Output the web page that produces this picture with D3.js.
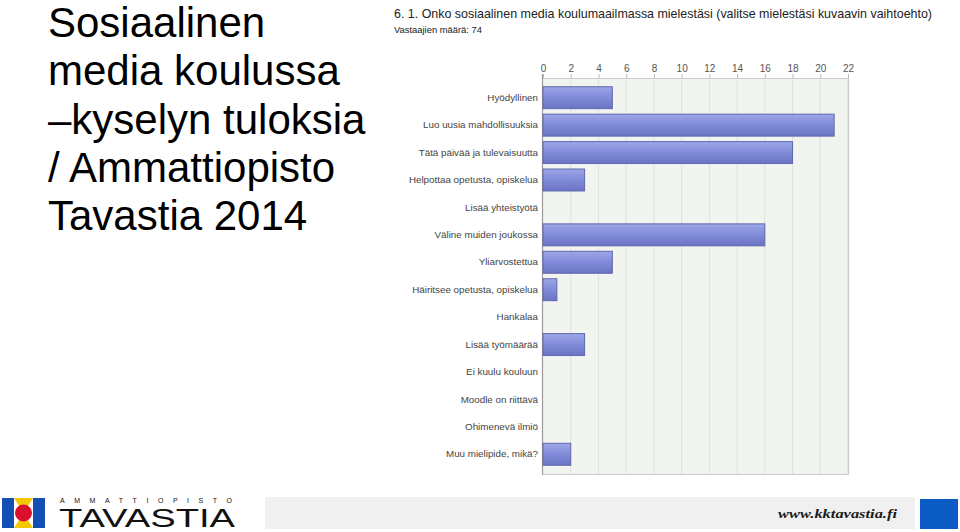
<!DOCTYPE html>
<html>
<head>
<meta charset="utf-8">
<script src="https://cdn.jsdelivr.net/npm/d3@7/dist/d3.min.js"></script>
<style>
  html, body { margin: 0; padding: 0; background: #fff; }
  svg { display: block; font-family: "Liberation Sans", Arial, sans-serif; }
</style>
</head>
<body>
<svg id="chart" width="960" height="532"></svg>
<script>
// ---- data ----
const categories = [
  "Hyödyllinen",
  "Luo uusia mahdollisuuksia",
  "Tätä päivää ja tulevaisuutta",
  "Helpottaa opetusta, opiskelua",
  "Lisää yhteistyötä",
  "Väline muiden joukossa",
  "Yliarvostettua",
  "Häiritsee opetusta, opiskelua",
  "Hankalaa",
  "Lisää työmäärää",
  "Ei kuulu kouluun",
  "Moodle on riittävä",
  "Ohimenevä ilmiö",
  "Muu mielipide, mikä?"
];
const counts = [5, 21, 18, 3, 0, 16, 5, 1, 0, 3, 0, 0, 0, 2];
const xTicks = [0, 2, 4, 6, 8, 10, 12, 14, 16, 18, 20, 22];
const titleLines = ["Sosiaalinen", "media koulussa", "–kyselyn tuloksia", "/ Ammattiopisto", "Tavastia 2014"];
const chartTitle = "6. 1. Onko sosiaalinen media koulumaailmassa mielestäsi (valitse mielestäsi kuvaavin vaihtoehto)";
const respondents = "Vastaajien määrä: 74";

const svg = d3.select("#chart");

// gradient for bars
const defs = svg.append("defs");
const grad = defs.append("linearGradient").attr("id", "barGrad").attr("x1", 0).attr("y1", 0).attr("x2", 0).attr("y2", 1);
grad.append("stop").attr("offset", "0%").attr("stop-color", "#9ea7e8");
grad.append("stop").attr("offset", "45%").attr("stop-color", "#838dda");
grad.append("stop").attr("offset", "100%").attr("stop-color", "#6a74c3");

// ---- left title ----
svg.append("g").selectAll("text").data(titleLines).join("text")
  .attr("x", 48)
  .attr("y", (d, i) => 37 + i * 48.3)
  .attr("font-size", 42)
  .attr("fill", "#000")
  .text(d => d);

// ---- chart header ----
svg.append("text").attr("x", 394).attr("y", 18).attr("font-size", 12.8).attr("fill", "#222")
  .attr("textLength", 538).attr("lengthAdjust", "spacingAndGlyphs").text(chartTitle);
svg.append("text").attr("x", 394).attr("y", 33).attr("font-size", 9.5).attr("fill", "#222")
  .attr("textLength", 88).attr("lengthAdjust", "spacingAndGlyphs").text(respondents);

// ---- plot ----
const px0 = 543, px1 = 848, py0 = 78, py1 = 474;
const x = d3.scaleLinear().domain([0, 22]).range([px0, px1]);
const y = d3.scaleBand().domain(categories).range([84, 468]).paddingInner(0.2).paddingOuter(0.1);

svg.append("rect").attr("x", px0).attr("y", py0).attr("width", px1 - px0).attr("height", py1 - py0)
  .attr("fill", "#f1f4ef");

// gridlines
svg.append("g").selectAll("line").data(xTicks.slice(1)).join("line")
  .attr("x1", d => x(d)).attr("x2", d => x(d))
  .attr("y1", py0).attr("y2", py1)
  .attr("stroke", "#dfe3dc").attr("stroke-width", 1);

// frame
svg.append("path")
  .attr("d", `M${px0},${py0 + 0.5}H${px1 + 0.5}V${py1 + 0.5}H${px0}`)
  .attr("fill", "none").attr("stroke", "#c9ccc7").attr("stroke-width", 1.2);
svg.append("line").attr("x1", px0 - 0.5).attr("x2", px0 - 0.5).attr("y1", py0 - 4).attr("y2", py1 + 1)
  .attr("stroke", "#9a9a9a").attr("stroke-width", 1.2);

// top axis
const xAxis = d3.axisTop(x).tickValues(xTicks).tickSize(4).tickPadding(2);
const gx = svg.append("g").attr("transform", `translate(0,${py0})`).call(xAxis);
gx.select(".domain").remove();
gx.selectAll(".tick line").attr("stroke", "#bbb");
gx.selectAll(".tick text").attr("font-size", 10).attr("fill", "#555")
  .attr("font-family", "'Liberation Sans', Arial, sans-serif");

// left axis labels
const yAxis = d3.axisLeft(y).tickSize(0).tickPadding(5);
const gy = svg.append("g").attr("transform", `translate(${px0},0)`).call(yAxis);
gy.select(".domain").remove();
gy.selectAll(".tick text").attr("font-size", 9.8).attr("fill", "#444")
  .attr("font-family", "'Liberation Sans', Arial, sans-serif");

// bars
svg.append("g").selectAll("rect").data(categories.map((c, i) => ({ c, v: counts[i] })).filter(d => d.v > 0)).join("rect")
  .attr("x", x(0))
  .attr("y", d => y(d.c))
  .attr("width", d => x(d.v) - x(0))
  .attr("height", y.bandwidth())
  .attr("fill", "url(#barGrad)")
  .attr("stroke", "#5f67ae").attr("stroke-width", 1);

// ---- footer ----
const footer = svg.append("g");
footer.append("rect").attr("x", 265).attr("y", 497).attr("width", 650).attr("height", 32).attr("fill", "#f0f0f0");
footer.append("rect").attr("x", 920).attr("y", 499).attr("width", 38).attr("height", 30).attr("fill", "#0b5cc5");
footer.append("text").attr("x", 778).attr("y", 518).attr("font-size", 13).attr("font-style", "italic")
  .attr("font-weight", "bold").attr("fill", "#1a1a1a").attr("font-family", "'Liberation Serif', 'Times New Roman', serif")
  .attr("textLength", 119).attr("lengthAdjust", "spacingAndGlyphs").text("www.kktavastia.fi");

// logo
const logo = footer.append("g");
logo.append("rect").attr("x", 2).attr("y", 498).attr("width", 12).attr("height", 30).attr("fill", "#1450b4");
logo.append("rect").attr("x", 33).attr("y", 498).attr("width", 12).attr("height", 30).attr("fill", "#1450b4");
logo.append("path").attr("d", "M14,498H33L23.5,513L33,528H14L23.5,513Z").attr("fill", "#f5c800");
logo.append("circle").attr("cx", 23.5).attr("cy", 513).attr("r", 8.5).attr("fill", "#d8102c");
logo.append("text").attr("x", 60).attr("y", 503).attr("font-size", 7).attr("fill", "#111")
  .attr("textLength", 172).attr("lengthAdjust", "spacing").text("AMMATTIOPISTO");
logo.append("text").attr("x", 59).attr("y", 527).attr("font-size", 25).attr("fill", "#111")
  .attr("textLength", 176).attr("lengthAdjust", "spacingAndGlyphs").text("TAVASTIA");
</script>
</body>
</html>
